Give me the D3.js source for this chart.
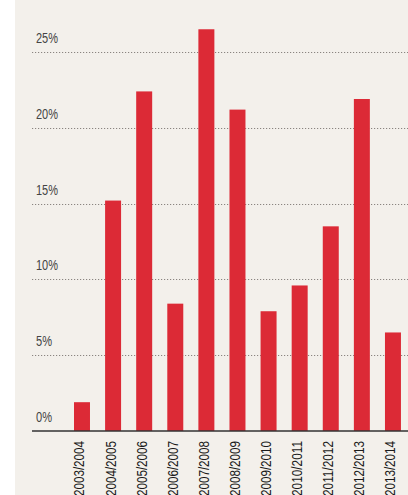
<!DOCTYPE html>
<html><head><meta charset="utf-8">
<script src="https://cdn.jsdelivr.net/npm/d3@7"></script>
<style>
html,body{margin:0;padding:0;background:#fff;}
svg{display:block;}
</style></head>
<body>
<svg id="c" width="408" height="495"></svg>
<script>
const categories = ["2003/2004","2004/2005","2005/2006","2006/2007","2007/2008","2008/2009","2009/2010","2010/2011","2011/2012","2012/2013","2013/2014"];
const values = [1.9, 15.2, 22.4, 8.4, 26.5, 21.2, 7.9, 9.6, 13.5, 21.9, 6.5];
const yTicks = [0, 5, 10, 15, 20, 25];
const yTickLabels = ["0%", "5%", "10%", "15%", "20%", "25%"];

const svg = d3.select("#c");
svg.append("rect").attr("x",15).attr("y",0).attr("width",393).attr("height",495).attr("fill","#f3f0eb");

const x = d3.scaleBand().domain(categories).range([58.45, 416.5]).paddingInner(0.486).paddingOuter(0.5);
const y = d3.scaleLinear().domain([0, 25]).range([431, 52]);

const fontFam = "'Liberation Sans',Arial,sans-serif";

// gridlines
svg.append("g").selectAll("line").data(yTicks.filter(d=>d>0)).join("line")
  .attr("x1",32).attr("x2",408)
  .attr("y1",d=>Math.round(y(d))+0.5).attr("y2",d=>Math.round(y(d))+0.5)
  .attr("stroke","#8a8580").attr("stroke-width",1).attr("stroke-dasharray","1.2,1.8");

// y labels
svg.append("g").selectAll("text").data(yTicks).join("text")
  .attr("x",36).attr("y",d=>y(d)-9)
  .attr("font-family",fontFam).attr("font-size",14).attr("fill","#444")
  .attr("textLength",(d,i)=>yTickLabels[i].length===2?16:22)
  .attr("lengthAdjust","spacingAndGlyphs")
  .text((d,i)=>yTickLabels[i]);

// bars
svg.append("g").selectAll("rect").data(values).join("rect")
  .attr("x",(d,i)=>x(categories[i])).attr("width",x.bandwidth())
  .attr("y",d=>y(d)).attr("height",d=>y(0)-y(d))
  .attr("fill","#dc2a36");

// axis line
svg.append("line").attr("x1",32).attr("x2",408).attr("y1",431).attr("y2",431)
  .attr("stroke","#333").attr("stroke-width",1.5);

// x labels
svg.append("g").selectAll("text").data(categories).join("text")
  .attr("transform",d=>`translate(${x(d)+x.bandwidth()/2+2.5},441) rotate(-90)`)
  .attr("text-anchor","end")
  .attr("font-family",fontFam).attr("font-size",14.5).attr("fill","#1a1a1a")
  .attr("textLength",55).attr("lengthAdjust","spacingAndGlyphs")
  .text(d=>d);
</script>
</body></html>
